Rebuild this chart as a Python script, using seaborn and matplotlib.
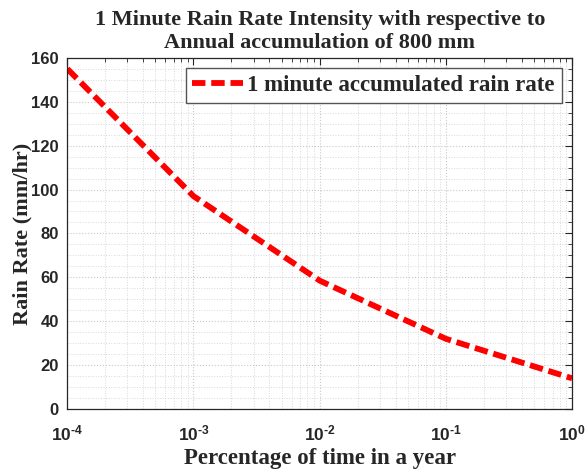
import numpy as np
import pandas as pd
import matplotlib
matplotlib.use("Agg")
import matplotlib.pyplot as plt
import seaborn as sns
from matplotlib.ticker import LogLocator, MultipleLocator, FuncFormatter

# percentage of time (log scale) and 1-minute rain rate
pct_time = [1e-4, 1e-3, 1e-2, 1e-1, 1e0]
rain_rate = [155, 97, 58.5, 32, 14]

df = pd.DataFrame({"pct": pct_time, "rate": rain_rate})

sns.set_style("white")
plt.rcParams["font.family"] = ["Liberation Serif", "DejaVu Serif"]
plt.rcParams["mathtext.fontset"] = "custom"
plt.rcParams["mathtext.rm"] = "Liberation Sans:bold"
plt.rcParams["mathtext.bf"] = "Liberation Sans:bold"
plt.rcParams["mathtext.default"] = "bf"

fig, ax = plt.subplots(figsize=(5.85, 4.74), dpi=100)
fig.subplots_adjust(left=0.115, right=0.978, top=0.878, bottom=0.137)

sns.lineplot(data=df, x="pct", y="rate", ax=ax, color="red", lw=4.2,
             dashes=False, label="1 minute accumulated rain rate")
ax.lines[0].set_linestyle((0, (2.3, 1.0)))

ax.set_xscale("log")
ax.set_xlim(1e-4, 1)
ax.set_ylim(0, 160)
ax.yaxis.set_major_locator(MultipleLocator(20))
ax.yaxis.set_minor_locator(MultipleLocator(5))
ax.xaxis.set_major_locator(LogLocator(base=10, numticks=10))
ax.xaxis.set_minor_locator(LogLocator(base=10, subs=np.arange(2, 10), numticks=20))
ax.xaxis.set_major_formatter(FuncFormatter(
    lambda v, p: r"$\mathbf{10^{%d}}$" % round(np.log10(v)) if round(np.log10(v)) == 0
    else r"$\mathbf{10^{\text{-}%d}}$" % abs(round(np.log10(v)))))

ax.grid(True, which="major", color="#c8c8c8", linestyle=":", lw=0.8)
ax.grid(True, which="minor", color="#d8d8d8", linestyle=":", lw=0.7)

ax.tick_params(which="both", direction="in", top=True, right=True, colors="#262626")
ax.tick_params(which="major", length=5, width=0.8)
ax.tick_params(which="minor", length=3, width=0.6)
for lab in ax.get_yticklabels():
    lab.set_family("Liberation Sans")
    lab.set_fontweight("bold")
ax.tick_params(axis="y", labelsize=12, pad=6)
ax.tick_params(axis="x", labelsize=12.5, pad=11)

for sp in ax.spines.values():
    sp.set_color("#262626")
    sp.set_linewidth(0.9)

ax.set_xlabel("Percentage of time in a year", fontsize=16.5, fontweight="bold",
              color="#262626", labelpad=3)
ax.set_ylabel("Rain Rate (mm/hr)", fontsize=16, fontweight="bold", color="#262626",
              labelpad=-1)
ax.set_title("1 Minute Rain Rate Intensity with respective to\nAnnual accumulation of 800 mm",
             fontsize=16, fontweight="bold", color="#262626", linespacing=1.2, pad=7)

leg = ax.legend(loc="upper right", prop={"weight": "bold", "size": 16.5},
                fancybox=False, framealpha=1, edgecolor="#555555",
                handlelength=2.2, handletextpad=0.2, borderaxespad=0.45,
                borderpad=0.3)
leg.get_frame().set_linewidth(1.0)

fig.savefig("out.png", dpi=100)
